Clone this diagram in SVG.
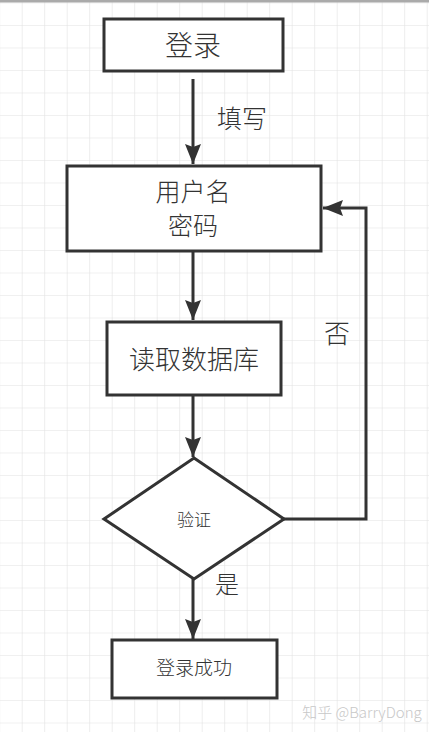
<svg xmlns="http://www.w3.org/2000/svg" width="429" height="732" viewBox="0 0 429 732">
<defs>
<pattern id="grid" patternUnits="userSpaceOnUse" x="-0.8" y="2.5" width="22.5" height="22.5">
<path d="M0 0V22.5M0 0H22.5" fill="none" stroke="#e2e2e2" stroke-width="1.2"/>
</pattern>
<marker id="arr" markerUnits="userSpaceOnUse" viewBox="0 0 20 16" refX="20" refY="8" markerWidth="20" markerHeight="16" orient="auto">
<path d="M0 0L20 8L0 16L3 8Z" fill="#333"/>
</marker>
<style>
.box{fill:#fff;stroke:#333;stroke-width:3}
.edge{fill:none;stroke:#333;stroke-width:3;marker-end:url(#arr)}
text{font-family:"Noto Sans CJK SC","Noto Sans",sans-serif;fill:#333;text-anchor:middle;font-weight:300}
.lbl{text-anchor:start}
</style>
</defs>
<rect width="429" height="732" fill="#fff"/>
<rect width="429" height="732" fill="url(#grid)"/>
<rect x="0" y="0" width="429" height="2.5" fill="#aaa"/>
<g id="connectors">
<path class="edge" d="M193 79V164"/>
<path class="edge" d="M193 251V320"/>
<path class="edge" d="M193 395V457"/>
<path class="edge" d="M193 579V639"/>
<path class="edge" d="M284 519H366V208H323"/>
<text class="lbl" x="217" y="128" font-size="25">填写</text>
<text class="lbl" x="324" y="343" font-size="26">否</text>
<text class="lbl" x="215" y="593" font-size="24">是</text>
</g>
<g id="login">
<rect class="box" x="104" y="19" width="179" height="52"/>
<text x="193" y="56" font-size="28">登录</text>
</g>
<g id="input">
<rect class="box" x="67" y="166" width="254" height="85"/>
<text x="193" y="201" font-size="25">用户名</text>
<text x="193" y="235" font-size="25">密码</text>
</g>
<g id="readdb">
<rect class="box" x="107" y="322" width="174" height="73"/>
<text x="194" y="369" font-size="26">读取数据库</text>
</g>
<g id="verify">
<polygon class="box" points="194,458 284,519 194,579 104,519"/>
<text x="194" y="526" font-size="17">验证</text>
</g>
<g id="success">
<rect class="box" x="112" y="640" width="165" height="58"/>
<text x="194" y="675" font-size="19">登录成功</text>
</g>
<text x="362" y="718" font-size="15" style="fill:#c8c8c8">知乎 @BarryDong</text>
</svg>
